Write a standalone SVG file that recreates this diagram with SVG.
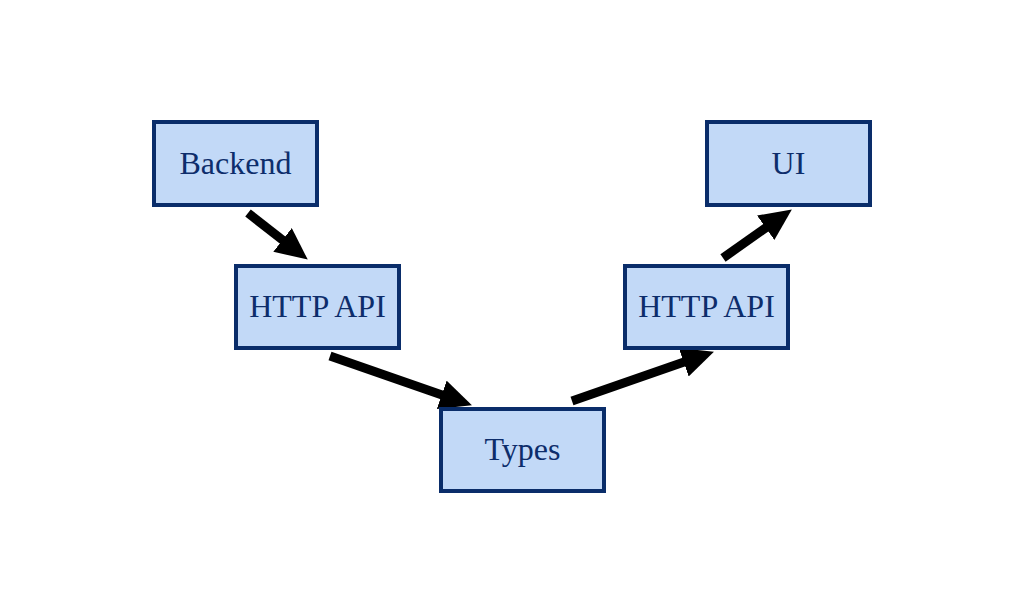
<svg xmlns="http://www.w3.org/2000/svg" width="1024" height="614" viewBox="0 0 1024 614">
<style>
.box{fill:#c2d9f7;stroke:#0a2d6a;stroke-width:4}
.lbl{font-family:"Liberation Serif","Times New Roman",serif;font-size:32px;fill:#0d2d6b;text-anchor:middle}
.edge{stroke:#000;stroke-width:9;fill:none}
</style>
<defs>
<marker id="ah" markerUnits="userSpaceOnUse" markerWidth="34" markerHeight="32" refX="11" refY="15" orient="auto" viewBox="0 0 34 32">
<path d="M0,0 L32,15 L0,30 z" fill="#000"/>
</marker>
</defs>
<rect width="1024" height="614" fill="#fff"/>
<g id="connectors">
<line class="edge" x1="248" y1="213" x2="291.2" y2="246.7" marker-end="url(#ah)"/>
<line class="edge" x1="330" y1="356" x2="452.1" y2="398.4" marker-end="url(#ah)"/>
<line class="edge" x1="572" y1="401" x2="694.1" y2="358.6" marker-end="url(#ah)"/>
<line class="edge" x1="723" y1="258" x2="774.7" y2="221.5" marker-end="url(#ah)"/>
</g>
<g id="backend"><rect class="box" x="154" y="122" width="163" height="83"/><text class="lbl" x="235.5" y="174">Backend</text></g>
<g id="httpapi1"><rect class="box" x="236" y="266" width="163" height="82"/><text class="lbl" x="317.5" y="317">HTTP API</text></g>
<g id="types"><rect class="box" x="441" y="409" width="163" height="82"/><text class="lbl" x="522.5" y="460">Types</text></g>
<g id="httpapi2"><rect class="box" x="625" y="266" width="163" height="82"/><text class="lbl" x="706.5" y="317">HTTP API</text></g>
<g id="ui"><rect class="box" x="707" y="122" width="163" height="83"/><text class="lbl" x="788.5" y="174">UI</text></g>
</svg>
